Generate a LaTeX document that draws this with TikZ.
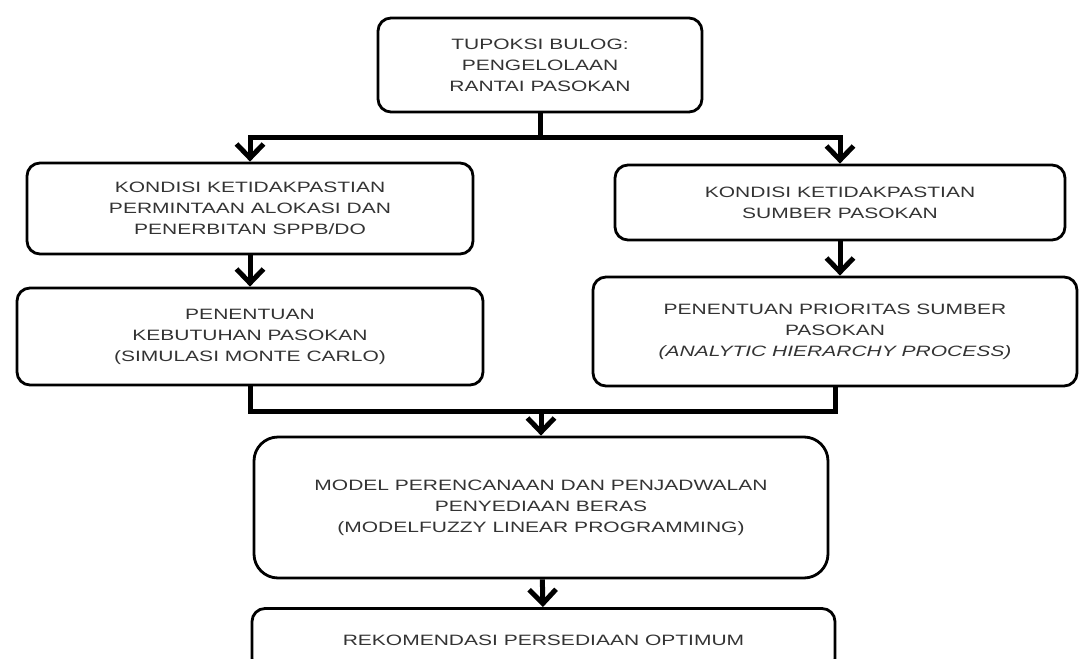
\documentclass[tikz,border=0pt]{standalone}
\usepackage{fontspec}
\setmainfont[FakeStretch=1.4]{Liberation Sans}
\usetikzlibrary{arrows.meta}

\begin{document}
\begin{tikzpicture}[
    x=1pt, y=-1pt,
    box/.style={rectangle, draw, line width=2.8pt, rounded corners=13pt, inner sep=0pt, align=center, text=black!80, font=\fontsize{15}{21}\selectfont},
    arrow/.style={-{Straight Barb[length=14pt, width=27pt]}, line width=5pt},
    connector/.style={line width=5pt}
]
\path[use as bounding box, clip] (0,0) rectangle (1080,659);

\node[box, minimum width=324pt, minimum height=94pt] (tupoksi) at (540,65) {TUPOKSI BULOG:\\PENGELOLAAN\\RANTAI PASOKAN};
\node[box, minimum width=446pt, minimum height=91pt] (kondisiA) at (250,208.5) {KONDISI KETIDAKPASTIAN\\PERMINTAAN ALOKASI DAN\\PENERBITAN SPPB/DO};
\node[box, minimum width=466pt, minimum height=97pt] (kebutuhan) at (250,336.5) {PENENTUAN\\KEBUTUHAN PASOKAN\\(SIMULASI MONTE CARLO)};
\node[box, minimum width=450pt, minimum height=75pt] (kondisiB) at (840,202.5) {KONDISI KETIDAKPASTIAN\\SUMBER PASOKAN};
\node[box, minimum width=484pt, minimum height=109pt] (prioritas) at (835,331.5) {PENENTUAN PRIORITAS SUMBER\\PASOKAN\\\textit{(ANALYTIC HIERARCHY PROCESS)}};
\node[box, minimum width=574pt, minimum height=141pt, rounded corners=24pt] (model) at (541,507.5) {MODEL PERENCANAAN DAN PENJADWALAN\\PENYEDIAAN BERAS\\(MODELFUZZY LINEAR PROGRAMMING)};
\node[box, minimum width=583pt, minimum height=63pt] (rekomendasi) at (543.5,640) {REKOMENDASI PERSEDIAAN OPTIMUM};

\coordinate (split) at (540,137);
\coordinate (join) at (541,411);

\draw[connector] (tupoksi.south) -- (split);
\draw[arrow] (split) -| (kondisiA.north);
\draw[arrow] (split) -| (kondisiB.north);
\draw[arrow] (kondisiA) -- (kebutuhan);
\draw[arrow] (kondisiB.south) -- (kondisiB.south |- prioritas.north);
\draw[connector] (kebutuhan.south) |- (join);
\draw[connector] (prioritas.south) |- (join);
\draw[arrow] (join) -- (model.north);
\draw[arrow] (model) -- (rekomendasi);
\end{tikzpicture}
\end{document}
